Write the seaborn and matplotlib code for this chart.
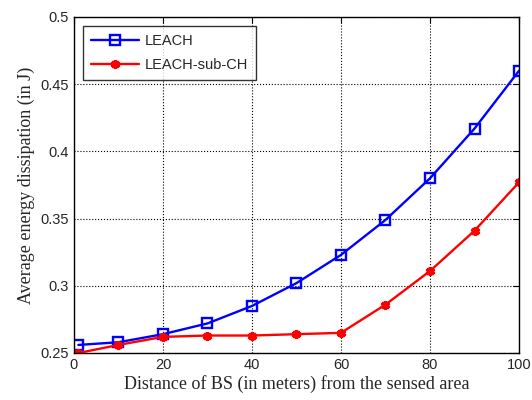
import matplotlib
matplotlib.use("Agg")
import matplotlib.pyplot as plt
import seaborn as sns
import pandas as pd

distance = [1, 10, 20, 30, 40, 50, 60, 70, 80, 90, 100]
leach = [0.256, 0.258, 0.264, 0.272, 0.285, 0.302, 0.323, 0.349, 0.380, 0.417, 0.460]
leach_sub_ch = [0.250, 0.256, 0.262, 0.263, 0.263, 0.264, 0.265, 0.286, 0.311, 0.341, 0.377]

df = pd.DataFrame({
    "distance": distance * 2,
    "energy": leach + leach_sub_ch,
    "protocol": ["LEACH"] * len(distance) + ["LEACH-sub-CH"] * len(distance),
})

sns.set_style("white")
plt.rcParams['font.family'] = ['Liberation Sans', 'DejaVu Sans']

fig = plt.figure(figsize=(5.32, 4.0), dpi=100)
ax = fig.add_axes([0.139, 0.1175, 0.8366, 0.84])

sns.lineplot(data=df, x="distance", y="energy", hue="protocol", style="protocol",
             palette={"LEACH": "#0000ff", "LEACH-sub-CH": "#ff0000"},
             markers={"LEACH": "s", "LEACH-sub-CH": "*"},
             dashes=False, linewidth=1.7, markersize=7, ax=ax)


def style_marker(line):
    col = line.get_color()
    if line.get_marker() == "s":
        line.set_markerfacecolor("none")
        line.set_markeredgecolor(col)
        line.set_markeredgewidth(1.7)
        line.set_markersize(6.5)
    elif line.get_marker() not in ("None", None, ""):
        line.set_marker((6, 2, 0))
        line.set_markeredgecolor(col)
        line.set_markerfacecolor(col)
        line.set_markeredgewidth(2.4)
        line.set_markersize(6.5)


for line in ax.lines:
    style_marker(line)

ax.set_xlim(0, 100)
ax.set_ylim(0.25, 0.5)
ax.set_xticks([0, 20, 40, 60, 80, 100])
ax.set_yticks([0.25, 0.3, 0.35, 0.4, 0.45, 0.5])
ax.set_yticklabels(["0.25", "0.3", "0.35", "0.4", "0.45", "0.5"])
ax.tick_params(direction="in", top=True, right=True, labelsize=10.5, length=4, color="black")
ax.grid(True, color="black", linestyle=":", linewidth=0.8)
for s in ax.spines.values():
    s.set_color("black")
    s.set_linewidth(1)

ax.set_xlabel("Distance of BS (in meters) from the sensed area",
              family=["Liberation Serif"], fontsize=13, labelpad=2)
ax.set_ylabel("Average energy dissipation (in J)",
              family=["Liberation Serif"], fontsize=13, labelpad=4)

handles, labels = ax.get_legend_handles_labels()
leg = ax.legend(handles, labels, loc="upper left", fontsize=10.5, frameon=True,
                fancybox=False, edgecolor="black", borderaxespad=0.6,
                handlelength=3.3, handletextpad=0.4, borderpad=0.55, labelspacing=0.7)
leg.get_frame().set_linewidth(1)
for h in leg.legend_handles:
    style_marker(h)

fig.savefig("out.png", dpi=100)
